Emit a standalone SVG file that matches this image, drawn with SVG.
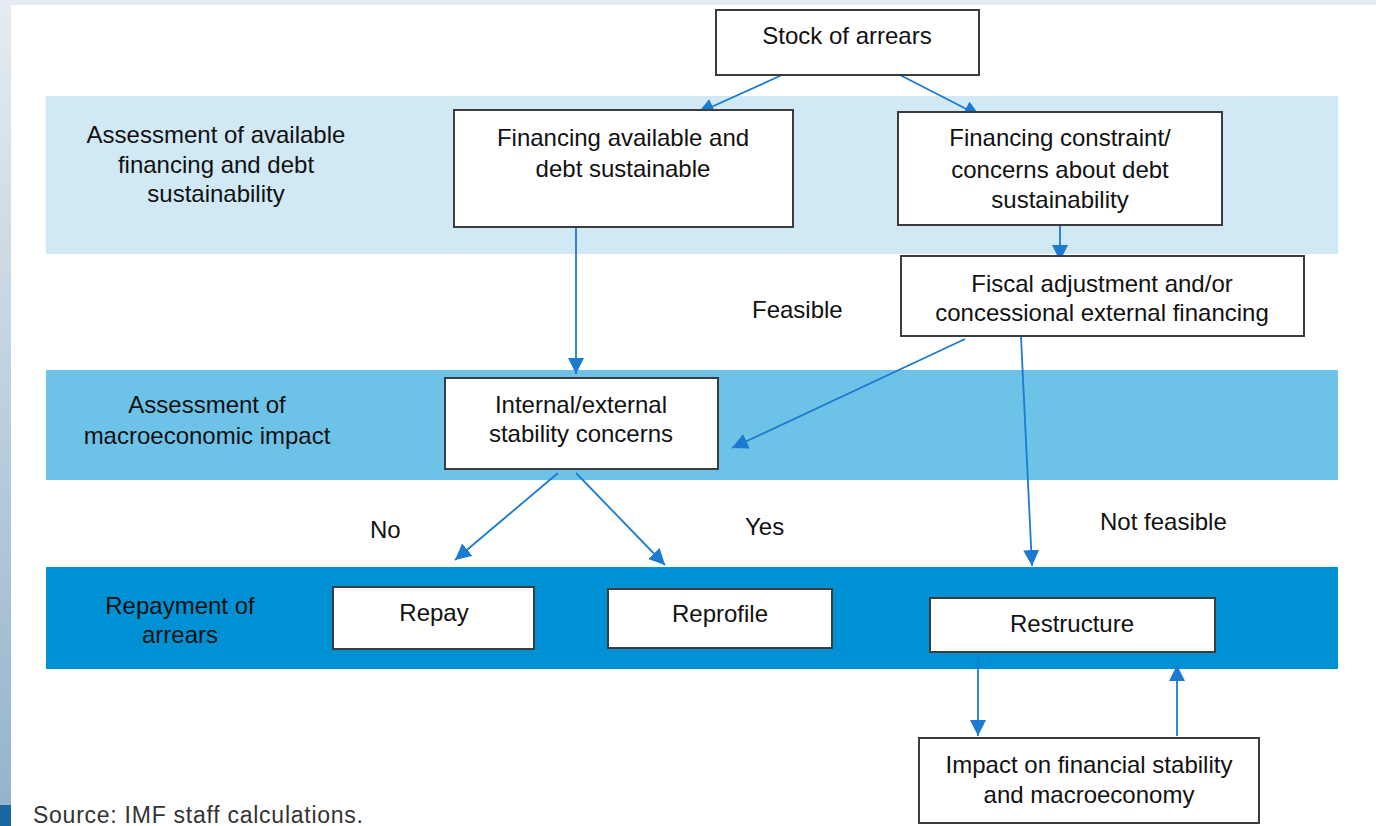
<svg xmlns="http://www.w3.org/2000/svg" width="1376" height="826" viewBox="0 0 1376 826">
<style>
text{font-family:"Liberation Sans",Arial,sans-serif;font-size:24px;fill:#111;}
.c{text-anchor:middle;}
.box{fill:#fff;stroke:#3c3c3c;stroke-width:2;}
.arr{stroke:#1a7bd1;stroke-width:1.8;fill:none;marker-end:url(#ah);}
</style>
<defs>
<linearGradient id="lb" x1="0" y1="0" x2="0" y2="1">
<stop offset="0" stop-color="#e6ecf1"/>
<stop offset="1" stop-color="#94b4cb"/>
</linearGradient>
<marker id="ah" markerUnits="userSpaceOnUse" markerWidth="18" markerHeight="18" refX="16" refY="8" orient="auto">
<path d="M0,0 L16,8 L0,16 z" fill="#1a7bd1"/>
</marker>
</defs>
<rect x="0" y="0" width="1376" height="826" fill="#fff"/>
<rect x="0" y="0" width="1376" height="5" fill="#e6ecf1"/>
<rect x="0" y="0" width="11" height="805" fill="url(#lb)"/>
<rect x="0" y="805" width="11" height="21" fill="#1867a0"/>

<g id="bands">
<rect x="46" y="96" width="1292" height="158" fill="#d0e9f5"/>
<rect x="46" y="370" width="1292" height="110" fill="#6dc2e8"/>
<rect x="46" y="567" width="1292" height="102" fill="#0091d4"/>
</g>

<g id="band-labels">
<text class="c" x="216" y="143">Assessment of available</text>
<text class="c" x="216" y="173">financing and debt</text>
<text class="c" x="216" y="202">sustainability</text>
<text class="c" x="207" y="413">Assessment of</text>
<text class="c" x="207" y="444">macroeconomic impact</text>
<text class="c" x="180" y="614">Repayment of</text>
<text class="c" x="180" y="643">arrears</text>
</g>

<g id="connectors">
<line class="arr" x1="782" y1="75" x2="698" y2="113"/>
<line class="arr" x1="900" y1="75" x2="980" y2="116"/>
<line class="arr" x1="576" y1="227" x2="576" y2="374"/>
<line class="arr" x1="1060" y1="226" x2="1060" y2="261"/>
<line class="arr" x1="965" y1="339" x2="732" y2="448"/>
<line class="arr" x1="1021" y1="337" x2="1032" y2="566"/>
<line class="arr" x1="558" y1="473" x2="455" y2="560"/>
<line class="arr" x1="576" y1="473" x2="665" y2="565"/>
<line class="arr" x1="978" y1="656" x2="978" y2="736"/>
<line class="arr" x1="1177" y1="736" x2="1177" y2="665"/>
</g>

<g id="edge-labels">
<text x="752" y="318">Feasible</text>
<text x="370" y="538">No</text>
<text x="745" y="535">Yes</text>
<text x="1100" y="530">Not feasible</text>
</g>

<g id="stock">
<rect class="box" x="716" y="10" width="263" height="65"/>
<text class="c" x="847" y="44">Stock of arrears</text>
</g>
<g id="fin-available">
<rect class="box" x="454" y="110" width="339" height="117"/>
<text class="c" x="623" y="146">Financing available and</text>
<text class="c" x="623" y="177">debt sustainable</text>
</g>
<g id="fin-constraint">
<rect class="box" x="898" y="112" width="324" height="113"/>
<text class="c" x="1060" y="146">Financing constraint/</text>
<text class="c" x="1060" y="178">concerns about debt</text>
<text class="c" x="1060" y="208">sustainability</text>
</g>
<g id="fiscal">
<rect class="box" x="901" y="256" width="403" height="80"/>
<text class="c" x="1102" y="292">Fiscal adjustment and/or</text>
<text class="c" x="1102" y="321">concessional external financing</text>
</g>
<g id="stability">
<rect class="box" x="445" y="378" width="273" height="91"/>
<text class="c" x="581" y="413">Internal/external</text>
<text class="c" x="581" y="442">stability concerns</text>
</g>
<g id="repay">
<rect class="box" x="333" y="587" width="201" height="62"/>
<text class="c" x="434" y="621">Repay</text>
</g>
<g id="reprofile">
<rect class="box" x="608" y="589" width="224" height="59"/>
<text class="c" x="720" y="622">Reprofile</text>
</g>
<g id="restructure">
<rect class="box" x="930" y="598" width="285" height="54"/>
<text class="c" x="1072" y="632">Restructure</text>
</g>
<g id="impact">
<rect class="box" x="919" y="738" width="340" height="85"/>
<text class="c" x="1089" y="773">Impact on financial stability</text>
<text class="c" x="1089" y="803">and macroeconomy</text>
</g>

<text x="33" y="823" style="font-size:23px;fill:#333" textLength="330" lengthAdjust="spacing">Source: IMF staff calculations.</text>
</svg>
